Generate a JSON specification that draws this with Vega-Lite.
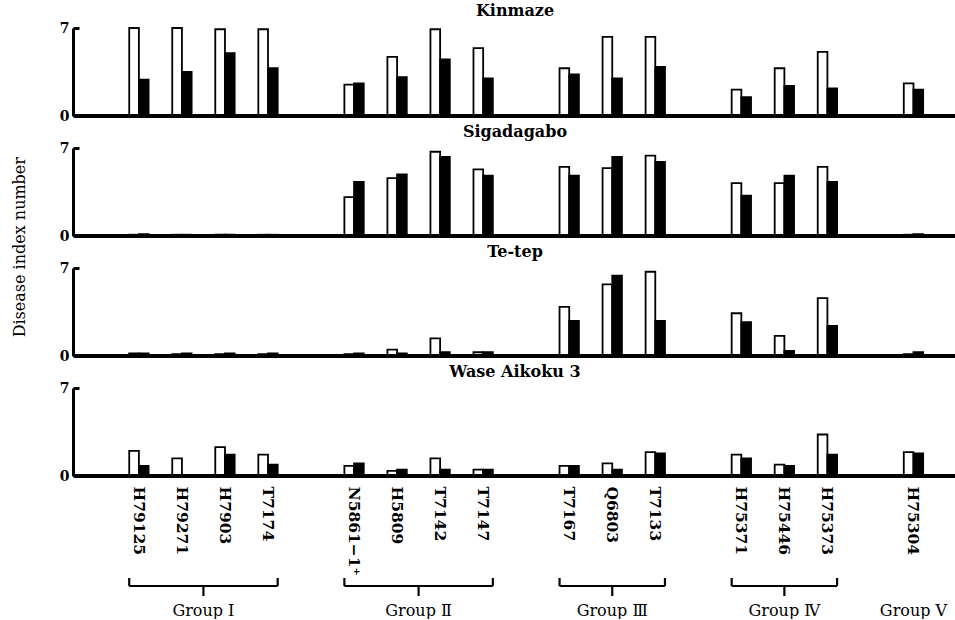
{
  "$schema": "https://vega.github.io/schema/vega-lite/v6.json",
  "padding": {"left": 12, "top": 3, "right": 0, "bottom": 0},
  "background": "white",
  "config": {"view": {"stroke": null}, "font": "DejaVu Serif", "concat": {"spacing": 0}},
  "datasets": {
    "d": [
      {"c": "Kinmaze", "i": "H79125", "open": 7.0, "filled": 2.9},
      {"c": "Kinmaze", "i": "H79271", "open": 7.0, "filled": 3.5},
      {"c": "Kinmaze", "i": "H7903", "open": 6.9, "filled": 5.0},
      {"c": "Kinmaze", "i": "T7174", "open": 6.9, "filled": 3.8},
      {"c": "Kinmaze", "i": "N5861−1⁺", "open": 2.5, "filled": 2.6},
      {"c": "Kinmaze", "i": "H5809", "open": 4.7, "filled": 3.1},
      {"c": "Kinmaze", "i": "T7142", "open": 6.9, "filled": 4.5},
      {"c": "Kinmaze", "i": "T7147", "open": 5.4, "filled": 3.0},
      {"c": "Kinmaze", "i": "T7167", "open": 3.8, "filled": 3.3},
      {"c": "Kinmaze", "i": "Q6803", "open": 6.3, "filled": 3.0},
      {"c": "Kinmaze", "i": "T7133", "open": 6.3, "filled": 3.9},
      {"c": "Kinmaze", "i": "H75371", "open": 2.1, "filled": 1.5},
      {"c": "Kinmaze", "i": "H75446", "open": 3.8, "filled": 2.4},
      {"c": "Kinmaze", "i": "H75373", "open": 5.1, "filled": 2.2},
      {"c": "Kinmaze", "i": "H75304", "open": 2.6, "filled": 2.1},
      {"c": "Sigadagabo", "i": "H79125", "open": 0.1, "filled": 0.15},
      {"c": "Sigadagabo", "i": "H79271", "open": 0.1, "filled": 0.1},
      {"c": "Sigadagabo", "i": "H7903", "open": 0.1, "filled": 0.1},
      {"c": "Sigadagabo", "i": "T7174", "open": 0.1, "filled": 0.1},
      {"c": "Sigadagabo", "i": "N5861−1⁺", "open": 3.1, "filled": 4.3},
      {"c": "Sigadagabo", "i": "H5809", "open": 4.6, "filled": 4.9},
      {"c": "Sigadagabo", "i": "T7142", "open": 6.7, "filled": 6.3},
      {"c": "Sigadagabo", "i": "T7147", "open": 5.3, "filled": 4.8},
      {"c": "Sigadagabo", "i": "T7167", "open": 5.5, "filled": 4.8},
      {"c": "Sigadagabo", "i": "Q6803", "open": 5.4, "filled": 6.3},
      {"c": "Sigadagabo", "i": "T7133", "open": 6.4, "filled": 5.9},
      {"c": "Sigadagabo", "i": "H75371", "open": 4.2, "filled": 3.2},
      {"c": "Sigadagabo", "i": "H75446", "open": 4.2, "filled": 4.8},
      {"c": "Sigadagabo", "i": "H75373", "open": 5.5, "filled": 4.3},
      {"c": "Sigadagabo", "i": "H75304", "open": 0.1, "filled": 0.15},
      {"c": "Te-tep", "i": "H79125", "open": 0.2, "filled": 0.2},
      {"c": "Te-tep", "i": "H79271", "open": 0.15, "filled": 0.2},
      {"c": "Te-tep", "i": "H7903", "open": 0.15, "filled": 0.2},
      {"c": "Te-tep", "i": "T7174", "open": 0.15, "filled": 0.2},
      {"c": "Te-tep", "i": "N5861−1⁺", "open": 0.15, "filled": 0.2},
      {"c": "Te-tep", "i": "H5809", "open": 0.5, "filled": 0.2},
      {"c": "Te-tep", "i": "T7142", "open": 1.4, "filled": 0.3},
      {"c": "Te-tep", "i": "T7147", "open": 0.3, "filled": 0.3},
      {"c": "Te-tep", "i": "T7167", "open": 3.9, "filled": 2.8},
      {"c": "Te-tep", "i": "Q6803", "open": 5.7, "filled": 6.4},
      {"c": "Te-tep", "i": "T7133", "open": 6.7, "filled": 2.8},
      {"c": "Te-tep", "i": "H75371", "open": 3.4, "filled": 2.7},
      {"c": "Te-tep", "i": "H75446", "open": 1.6, "filled": 0.4},
      {"c": "Te-tep", "i": "H75373", "open": 4.6, "filled": 2.4},
      {"c": "Te-tep", "i": "H75304", "open": 0.15, "filled": 0.3},
      {"c": "Wase Aikoku 3", "i": "H79125", "open": 2.0, "filled": 0.8},
      {"c": "Wase Aikoku 3", "i": "H79271", "open": 1.4, "filled": 0.0},
      {"c": "Wase Aikoku 3", "i": "H7903", "open": 2.3, "filled": 1.7},
      {"c": "Wase Aikoku 3", "i": "T7174", "open": 1.7, "filled": 0.9},
      {"c": "Wase Aikoku 3", "i": "N5861−1⁺", "open": 0.8, "filled": 1.0},
      {"c": "Wase Aikoku 3", "i": "H5809", "open": 0.4, "filled": 0.5},
      {"c": "Wase Aikoku 3", "i": "T7142", "open": 1.4, "filled": 0.5},
      {"c": "Wase Aikoku 3", "i": "T7147", "open": 0.5, "filled": 0.5},
      {"c": "Wase Aikoku 3", "i": "T7167", "open": 0.8, "filled": 0.8},
      {"c": "Wase Aikoku 3", "i": "Q6803", "open": 1.0, "filled": 0.5},
      {"c": "Wase Aikoku 3", "i": "T7133", "open": 1.9, "filled": 1.8},
      {"c": "Wase Aikoku 3", "i": "H75371", "open": 1.7, "filled": 1.4},
      {"c": "Wase Aikoku 3", "i": "H75446", "open": 0.9, "filled": 0.8},
      {"c": "Wase Aikoku 3", "i": "H75373", "open": 3.3, "filled": 1.7},
      {"c": "Wase Aikoku 3", "i": "H75304", "open": 1.9, "filled": 1.8}
    ],
    "g": [
      {"g": "Group Ⅰ", "a": "H79125", "b": "T7174", "m": "H79271", "even": true},
      {"g": "Group Ⅱ", "a": "N5861−1⁺", "b": "T7147", "m": "H5809", "even": true},
      {"g": "Group Ⅲ", "a": "T7167", "b": "T7133", "m": "Q6803", "even": false},
      {"g": "Group Ⅳ", "a": "H75371", "b": "H75373", "m": "H75446", "even": false},
      {"g": "Group Ⅴ", "a": null, "b": null, "m": "H75304", "even": false}
    ]
  },
  "vconcat": [
    {
      "data": {"name": "d"},
      "title": {"text": "Disease index number", "orient": "left", "anchor": "middle", "font": "DejaVu Serif",
                "fontSize": 16, "fontWeight": "normal", "color": "black", "offset": 31, "dx": 42},
      "transform": [{"fold": ["open", "filled"], "as": ["t", "v"]}],
      "facet": {
        "row": {
          "field": "c", "type": "nominal",
          "sort": ["Kinmaze", "Sigadagabo", "Te-tep", "Wase Aikoku 3"],
          "header": {"title": null, "labelOrient": "top", "labelAngle": 0, "labelAnchor": "middle",
                     "labelFont": "DejaVu Serif", "labelFontWeight": "bold", "labelFontSize": 16,
                     "labelColor": "black", "labelPadding": 0, "labelBaseline": "middle"}
        }
      },
      "spacing": 6,
      "spec": {
        "width": 880,
        "height": 88,
        "layer": [
          {
            "mark": {"type": "bar", "stroke": "black", "strokeWidth": 1.8},
            "encoding": {
              "x": {
                "field": "i", "type": "nominal", "sort": null,
                "scale": {"domain": ["H79125", "H79271", "H7903", "T7174", " ", "N5861−1⁺", "H5809", "T7142", "T7147", "  ", "T7167", "Q6803", "T7133", "   ", "H75371", "H75446", "H75373", "    ", "H75304"],
                          "paddingInner": 0.55, "paddingOuter": 1, "align": 0.63},
                "axis": {"title": null, "labelAngle": 90, "ticks": false, "domain": false,
                         "labelFont": "DejaVu Serif", "labelFontWeight": "bold", "labelFontSize": 15.5,
                         "labelColor": "black", "labelPadding": 8}
              },
              "xOffset": {"field": "t", "type": "nominal", "scale": {"domain": ["open", "filled"], "paddingInner": 0, "paddingOuter": 0}},
              "y": {
                "field": "v", "type": "quantitative",
                "scale": {"domain": [0, 7]},
                "axis": {"title": null, "values": [0, 1, 2, 3, 4, 5, 6, 7],
                         "labelExpr": "datum.value == 0 || datum.value == 7 ? datum.label : ''",
                         "tickSize": -6, "tickWidth": 3, "tickColor": "black",
                         "domainWidth": 3, "domainColor": "black", "grid": false,
                         "labelFont": "DejaVu Serif", "labelFontWeight": "bold", "labelFontSize": 14,
                         "labelColor": "black", "labelPadding": 10}
              },
              "fill": {"field": "t", "type": "nominal", "scale": {"domain": ["open", "filled"], "range": ["white", "black"]}, "legend": null}
            }
          },
          {
            "mark": {"type": "rule", "strokeWidth": 3, "color": "black"},
            "encoding": {"y": {"datum": 0}}
          }
        ]
      }
    },
    {
      "data": {"name": "g"},
      "width": 880,
      "height": 40,
      "encoding": {
        "y": {"datum": 0, "scale": {"domain": [0, 10]}, "axis": null}
      },
      "layer": [
        {
          "mark": {"type": "rule", "strokeWidth": 2.2, "color": "black"},
          "transform": [{"filter": "datum.a != null"}],
          "encoding": {
            "x": {"field": "a", "type": "nominal", "bandPosition": 0,
                  "scale": {"domain": ["H79125", "H79271", "H7903", "T7174", " ", "N5861−1⁺", "H5809", "T7142", "T7147", "  ", "T7167", "Q6803", "T7133", "   ", "H75371", "H75446", "H75373", "    ", "H75304"],
                            "paddingInner": 0.55, "paddingOuter": 1, "align": 0.63},
                  "axis": null},
            "x2": {"field": "b", "bandPosition": 1},
            "y": {"datum": 8}
          }
        },
        {
          "mark": {"type": "rule", "strokeWidth": 2.2, "color": "black"},
          "transform": [{"filter": "datum.a != null"}],
          "encoding": {
            "x": {"field": "a", "type": "nominal", "bandPosition": 0},
            "y": {"datum": 8},
            "y2": {"datum": 10}
          }
        },
        {
          "mark": {"type": "rule", "strokeWidth": 2.2, "color": "black"},
          "transform": [{"filter": "datum.b != null"}],
          "encoding": {
            "x": {"field": "b", "type": "nominal", "bandPosition": 1},
            "y": {"datum": 8},
            "y2": {"datum": 10}
          }
        },
        {
          "mark": {"type": "rule", "strokeWidth": 2.2, "color": "black"},
          "transform": [{"filter": "datum.a != null && !datum.even"}],
          "encoding": {
            "x": {"field": "m", "type": "nominal", "bandPosition": 0.5},
            "y": {"datum": 8},
            "y2": {"datum": 5.5}
          }
        },
        {
          "mark": {"type": "rule", "strokeWidth": 2.2, "color": "black"},
          "transform": [{"filter": "datum.even"}],
          "encoding": {
            "x": {"field": "m", "type": "nominal", "bandPosition": 1.61},
            "y": {"datum": 8},
            "y2": {"datum": 5.5}
          }
        },
        {
          "mark": {"type": "text", "font": "DejaVu Serif", "fontSize": 16, "color": "black", "baseline": "middle"},
          "transform": [{"filter": "!datum.even"}],
          "encoding": {
            "x": {"field": "m", "type": "nominal", "bandPosition": 0.5},
            "y": {"datum": 1.8},
            "text": {"field": "g"}
          }
        },
        {
          "mark": {"type": "text", "font": "DejaVu Serif", "fontSize": 16, "color": "black", "baseline": "middle"},
          "transform": [{"filter": "datum.even"}],
          "encoding": {
            "x": {"field": "m", "type": "nominal", "bandPosition": 1.61},
            "y": {"datum": 1.8},
            "text": {"field": "g"}
          }
        }
      ]
    }
  ]
}
